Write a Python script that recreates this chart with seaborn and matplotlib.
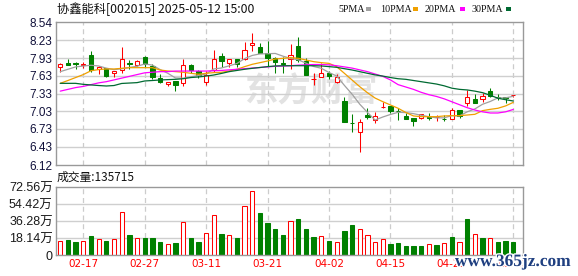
import numpy as np
import matplotlib
matplotlib.use('Agg')
import matplotlib.pyplot as plt
import matplotlib.patheffects as pe
from matplotlib.patches import Rectangle
import seaborn as sns

# >> values (one entry per trading day, 2025-02-12 .. 2025-05-12)
opens = [7.773, 7.85, 7.84, 7.82, 7.982, 7.739, 7.756, 7.672, 7.728, 7.84,
         7.818, 7.954, 7.796, 7.587, 7.486, 7.542, 7.514, 7.807, 7.71, 7.525,
         7.728, 7.97, 7.84, 7.908, 7.914, 8.145, 8.111, 8.01, 7.937, 7.838,
         7.908, 8.134, 7.886, 7.57, 7.604, 7.683, 7.519, 7.203, 6.83, 6.673,
         6.966, 6.882, 7.105, 7.119, 7.036, 6.955, 6.921, 6.921, 6.924, 6.925,
         6.905, 6.904, 7.051, 7.164, 7.237, 7.232, 7.373, 7.266, 7.265, 7.30]
highs = [7.852, 7.91, 7.87, 7.86, 8.05, 7.796, 7.76, 7.71, 8.11, 7.89,
         7.897, 7.97, 7.83, 7.655, 7.525, 7.545, 7.914, 7.83, 7.72, 7.717,
         8.06, 8.021, 7.908, 7.914, 8.202, 8.348, 8.19, 8.219, 7.954, 7.942,
         8.168, 8.292, 7.925, 7.672, 7.852, 7.71, 7.66, 7.265, 6.978, 6.899,
         7.08, 7.023, 7.192, 7.12, 7.08, 6.995, 6.921, 6.978, 6.995, 6.966,
         6.972, 7.09, 7.051, 7.39, 7.316, 7.333, 7.423, 7.322, 7.268, 7.31]
lows = [7.70, 7.82, 7.75, 7.77, 7.70, 7.666, 7.604, 7.615, 7.672, 7.74,
        7.796, 7.784, 7.58, 7.514, 7.463, 7.378, 7.463, 7.683, 7.59, 7.468,
        7.688, 7.784, 7.773, 7.784, 7.891, 8.055, 8.016, 7.796, 7.672, 7.672,
        7.739, 7.869, 7.643, 7.468, 7.604, 7.58, 7.502, 6.854, 6.673, 6.335,
        6.893, 6.825, 7.08, 6.995, 6.88, 6.899, 6.78, 6.899, 6.882, 6.87,
        6.87, 6.904, 6.921, 7.118, 7.175, 7.192, 7.265, 7.22, 7.175, 7.265]
closes = [7.83, 7.82, 7.835, 7.825, 7.728, 7.773, 7.632, 7.705, 7.908, 7.835,
          7.875, 7.824, 7.615, 7.525, 7.525, 7.474, 7.807, 7.728, 7.64, 7.649,
          7.908, 7.886, 7.908, 7.835, 8.061, 8.179, 8.016, 7.925, 7.858, 7.833,
          7.987, 7.897, 7.643, 7.574, 7.683, 7.626, 7.604, 6.854, 6.826, 6.842,
          6.927, 6.955, 7.11, 7.04, 7.03, 6.899, 6.865, 6.978, 6.92, 6.93,
          6.899, 7.051, 6.955, 7.265, 7.175, 7.294, 7.288, 7.26, 7.262, 7.31]

ma5 = [7.70, 7.74, 7.78, 7.795, 7.808, 7.796, 7.759, 7.733, 7.749, 7.771,
       7.791, 7.829, 7.811, 7.735, 7.673, 7.593, 7.589, 7.612, 7.635, 7.66,
       7.746, 7.762, 7.798, 7.837, 7.92, 7.974, 8.0, 8.003, 8.008, 7.962,
       7.924, 7.90, 7.844, 7.787, 7.757, 7.685, 7.626, 7.468, 7.319, 7.15,
       7.011, 6.881, 6.932, 6.975, 7.012, 7.007, 6.989, 6.962, 6.938, 6.918,
       6.918, 6.956, 6.951, 7.02, 7.069, 7.148, 7.195, 7.256, 7.256, 7.283]
ma10 = [7.502, 7.55, 7.60, 7.65, 7.715, 7.735, 7.745, 7.745, 7.756, 7.767,
        7.767, 7.767, 7.767, 7.728, 7.711, 7.70, 7.689, 7.672, 7.655, 7.672,
        7.683, 7.689, 7.711, 7.739, 7.784, 7.824, 7.852, 7.88, 7.914, 7.925,
        7.937, 7.925, 7.897, 7.869, 7.852, 7.84, 7.784, 7.672, 7.559, 7.446,
        7.344, 7.253, 7.192, 7.136, 7.08, 7.009, 6.95, 6.938, 6.938, 6.938,
        6.95, 6.955, 6.955, 6.966, 6.978, 7.04, 7.062, 7.08, 7.12, 7.180]
ma20 = [7.37, 7.40, 7.43, 7.45, 7.48, 7.51, 7.53, 7.56, 7.59, 7.62,
        7.65, 7.68, 7.69, 7.70, 7.70, 7.71, 7.71, 7.71, 7.71, 7.71,
        7.715, 7.72, 7.73, 7.74, 7.75, 7.76, 7.77, 7.78, 7.79, 7.795,
        7.80, 7.81, 7.815, 7.82, 7.82, 7.815, 7.80, 7.78, 7.76, 7.73,
        7.70, 7.66, 7.62, 7.56, 7.48, 7.44, 7.40, 7.35, 7.31, 7.28,
        7.24, 7.19, 7.14, 7.09, 7.05, 7.02, 7.00, 7.00, 7.02, 7.06]
ma30 = [7.502, 7.502, 7.502, 7.485, 7.475, 7.465, 7.457, 7.465, 7.50, 7.507,
        7.514, 7.542, 7.55, 7.559, 7.565, 7.57, 7.58, 7.60, 7.61, 7.625,
        7.643, 7.67, 7.70, 7.72, 7.74, 7.756, 7.77, 7.785, 7.796, 7.80,
        7.80, 7.80, 7.80, 7.80, 7.796, 7.785, 7.773, 7.75, 7.728, 7.70,
        7.672, 7.645, 7.625, 7.60, 7.58, 7.57, 7.55, 7.53, 7.51, 7.49,
        7.46, 7.42, 7.40, 7.39, 7.37, 7.344, 7.30, 7.25, 7.225, 7.203]

# volume in 万 (10k lots), with the colour each bar is drawn in
volumes = [14.9, 15.9, 13.8, 14.9, 20.2, 16.6, 14.9, 16.6, 46.4, 20.9,
           17.7, 18.1, 18.1, 13.8, 11.3, 12.7, 35.0, 18.1, 14.2, 23.4,
           42.5, 22.7, 21.2, 18.1, 52.0, 68.0, 45.0, 34.3, 28.0, 21.6,
           35.8, 38.6, 28.0, 19.5, 19.8, 15.2, 13.8, 25.8, 31.9, 27.3,
           20.9, 13.8, 16.6, 11.7, 12.7, 9.6, 9.6, 9.2, 11.7, 10.3,
           12.7, 18.8, 13.8, 37.9, 22.3, 17.7, 18.1, 13.8, 14.9, 13.57]
vol_dir = list("rggrgrgrrgrgggrgrgg" "rrgrgrrggggrgggrgrggrrrrg" "ggggrgrgrgrgrgggr")

price_ticks = [6.12, 6.43, 6.73, 7.03, 7.33, 7.63, 7.93, 8.23, 8.54]
vol_ticks = [0, 18.14, 36.28, 54.42, 72.56]
vol_labels = ['0', '18.14万', '36.28万', '54.42万', '72.56万']
date_idx = [3, 11, 19, 27, 35, 43, 51, 59]
date_labels = ['02-17', '02-27', '03-11', '03-21', '04-02', '04-15', '04-25', '05-12']

ma_names = ['5PMA', '10PMA', '20PMA', '30PMA']
ma_colors = ['#a0a0a0', '#f0a000', '#ff00ff', '#006a32']

RED = '#ff0000'
GREEN = '#008000'

sns.set_style('white')
plt.rcParams['font.family'] = ['Liberation Sans', 'Noto Sans CJK SC', 'DejaVu Sans']

W, H = 578, 276
fig = plt.figure(figsize=(W / 100, H / 100), dpi=100)
L, R = 55.5, 522.5
ax = fig.add_axes([L / W, 1 - 165 / H, (R - L) / W, (165 - 22) / H])
axv = fig.add_axes([L / W, 1 - 255 / H, (R - L) / W, (255 - 187) / H])

days = np.arange(len(closes))
bw = 0.56
lw = 0.75

# candles
for i in days:
    o, h, l, c = opens[i], highs[i], lows[i], closes[i]
    if c >= o:
        ax.vlines(i, c, h, color=RED, lw=lw, zorder=2)
        ax.vlines(i, l, o, color=RED, lw=lw, zorder=2)
        ax.add_patch(Rectangle((i - bw / 2, o), bw, max(c - o, 0.0005),
                               facecolor='white', edgecolor=RED, lw=lw, zorder=2))
    else:
        ax.vlines(i, l, h, color=GREEN, lw=lw, zorder=2)
        ax.add_patch(Rectangle((i - bw / 2, c), bw, o - c,
                               facecolor=GREEN, edgecolor=GREEN, lw=lw, zorder=2))

# moving averages
for vals, col in zip([ma5, ma10, ma20, ma30], ma_colors):
    sns.lineplot(x=days, y=vals, ax=ax, color=col, lw=0.9, zorder=3, legend=False)

# volume bars
for i in days:
    if vol_dir[i] == 'r':
        axv.bar(i, volumes[i], width=bw, facecolor='white', edgecolor=RED, lw=lw, zorder=2)
    else:
        axv.bar(i, volumes[i], width=bw, facecolor=GREEN, edgecolor=GREEN, lw=lw, zorder=2)

for a in (ax, axv):
    a.set_xlim(-0.62, 60.2)
    for sp in a.spines.values():
        sp.set_color('#999999')
        sp.set_linewidth(1)
    for d in date_idx:
        a.axvline(d, color='#cccccc', lw=0.9, ls=(0, (4, 3)), zorder=1)
    a.tick_params(length=0, pad=2)
    a.set_xlabel('')
    a.set_ylabel('')

ax.set_ylim(6.12, 8.54)
ax.set_yticks(price_ticks)
ax.set_yticklabels([f'{t:.2f}' for t in price_ticks], fontsize=8.5, color='#10103a')
ax.set_xticks([])
for t in price_ticks[1:-1]:
    ax.axhline(t, color='#cfcfcf', lw=1, zorder=1)

axv.set_ylim(0, 72.56)
axv.set_yticks(vol_ticks)
axv.set_yticklabels(vol_labels, fontsize=9, color='#1a1a1a')
axv.set_xticks(date_idx)
axv.set_xticklabels(date_labels, fontsize=7.5, color=RED, family='DejaVu Sans')
axv.tick_params(axis='x', pad=3)
for t in vol_ticks[1:-1]:
    axv.axhline(t, color='#cfcfcf', lw=1, zorder=1)

# watermark in price panel
ax.text(311 / W, 1 - 92 / H, '东方财富', transform=fig.transFigure, ha='center', va='center',
        fontsize=24, fontweight='bold', color='#e2e2e2', zorder=0.5,
        family=['Noto Sans CJK SC'])

# header texts
fig.text(57 / W, 1 - 9 / H, '协鑫能科[002015] 2025-05-12 15:00', fontsize=8.8,
         va='center', ha='left', color='#111111', family=['Noto Sans CJK SC', 'DejaVu Sans'])
fig.text(57 / W, 1 - 177 / H, '成交量:135715', fontsize=8.5, va='center', ha='left',
         color='#111111', family=['Noto Sans CJK SC', 'DejaVu Sans'])

# legend row
text_x = [338, 380, 425, 471]
box_x = [366, 413, 460, 506]
for name, col, tx, bx in zip(ma_names, ma_colors, text_x, box_x):
    fig.text(tx / W, 1 - 9 / H, name, fontsize=7.2, va='center', ha='left',
             color='#111111', family='Liberation Serif')
    fig.patches.append(Rectangle((bx / W, 1 - 11 / H), 5 / W, 4 / H, transform=fig.transFigure,
                                 facecolor=col, edgecolor='none', figure=fig))

# site watermark bottom right
fig.text(513 / W, 1 - 262 / H, 'www.365jz.com', fontsize=12.5, fontweight='bold',
         ha='center', va='center', color='#1f3f80', family='Liberation Serif', zorder=5,
         path_effects=[pe.withStroke(linewidth=2, foreground='white')])

fig.savefig('out.png', dpi=100)
